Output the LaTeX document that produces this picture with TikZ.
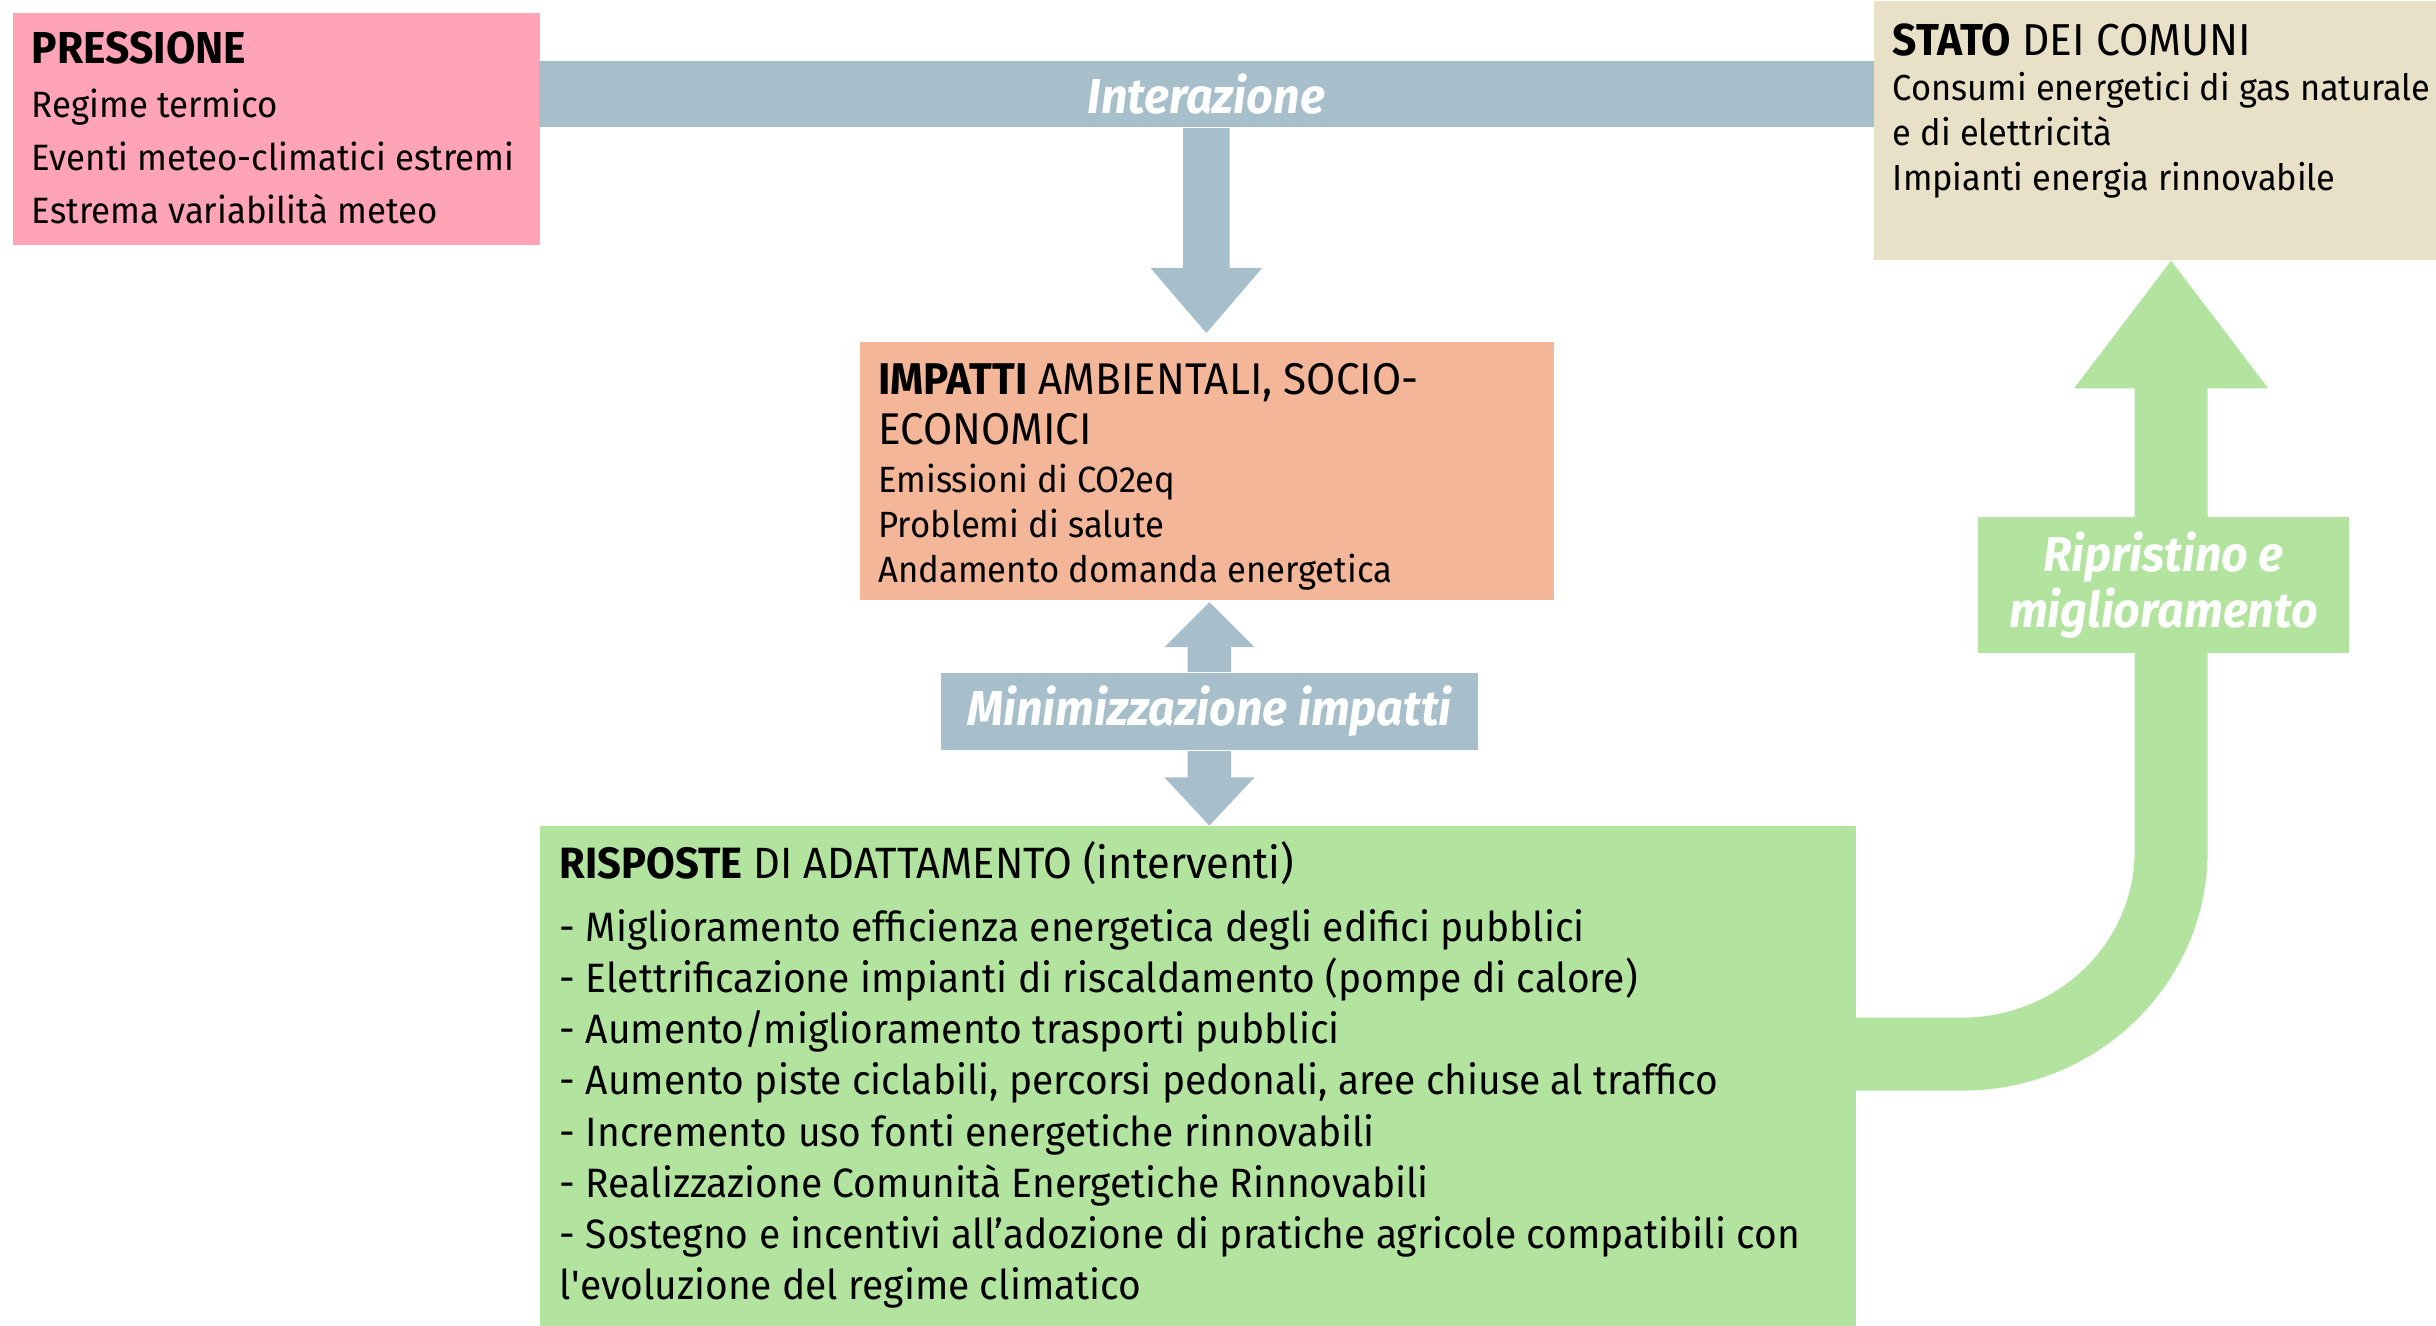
\documentclass[tikz,border=0pt]{standalone}
\usepackage{fontspec}
\setmainfont{Fira Sans}[FakeStretch=0.95]
\usepackage{xcolor}
\usepackage{tikz}

\definecolor{pressionecol}{HTML}{FFA3B7}
\definecolor{statocol}{HTML}{E8E1C8}
\definecolor{impatticol}{HTML}{F4B698}
\definecolor{rispostecol}{HTML}{B3E49F}
\definecolor{arrowgray}{HTML}{A7BFCB}

\newcommand\headfont[1]{\fontsize{#1}{16}\selectfont}

\begin{document}
\begin{tikzpicture}[x=0.5pt,y=-0.5pt,
  box/.style={rectangle, inner sep=0pt, anchor=north west},
  boxtext/.style={anchor=north west, align=left, inner sep=0pt},
  flowlabel/.style={text=white, inner sep=0pt,
    font=\bfseries\itshape\fontsize{15.8}{18}\selectfont}]
  \useasboundingbox (0,0) rectangle (1568,853.5);

  % boxes
  \node[box, fill=pressionecol, minimum width=169.5pt, minimum height=74.5pt] (pressione) at (8,8) {};
  \node[box, fill=statocol, minimum width=181pt, minimum height=83.5pt] (stato) at (1206,0) {};
  \node[box, fill=impatticol, minimum width=223.5pt, minimum height=83pt] (impatti) at (553,220) {};
  \node[box, fill=rispostecol, minimum width=423.5pt, minimum height=161.25pt] (risposte) at (347,531) {};

  % interazione
  \node[flowlabel, fill=arrowgray, minimum width=429.5pt, minimum height=21.5pt] (interazione) at (776.5,60.5) {Interazione};
  \fill[arrowgray] ([xshift=-7.5pt]interazione.south) -- ++(0,90) -- ++(-21,0) -- ++(36,42)
    -- ++(36,-42) -- ++(-21,0) -- ++(0,-90) -- cycle;

  % minimizzazione
  \node[flowlabel, fill=arrowgray, minimum width=173pt, minimum height=25pt] (minim) at (778.5,458) {Minimizzazione impatti};
  \fill[arrowgray] ([xshift=-7pt]minim.north) -- ++(0,-16) -- ++(-15,0) -- ++(29,-29)
    -- ++(29,29) -- ++(-15,0) -- ++(0,16) -- cycle;
  \fill[arrowgray] ([xshift=-7pt]minim.south) -- ++(0,17) -- ++(-15,0) -- ++(29,31)
    -- ++(29,-31) -- ++(-15,0) -- ++(0,-17) -- cycle;

  % ripristino
  \fill[rispostecol] (risposte.north east |- 0,655) -- (1263,655)
    arc[start angle=270, end angle=360, x radius=55.5pt, y radius=53.5pt]
    -- (1374,250) -- (1335,250) -- (stato.south -| 1397.5,0) -- (1460,250) -- (1421,250) -- (1421,548)
    arc[start angle=0, end angle=-90, x radius=79pt, y radius=77pt]
    -- (risposte.north east |- 0,702) -- cycle;
  \node[flowlabel, fill=rispostecol, minimum width=119.5pt, minimum height=43.5pt, align=center] (ripristino) at (1392.5,376.5) {Ripristino e\\miglioramento};

  % texts
  \node[boxtext, font=\fontsize{11.8}{17}\selectfont] (pressione-txt) at (20,20)
    {\headfont{14.4}\textbf{PRESSIONE}\\[0.5pt] Regime termico\\ Eventi meteo-climatici estremi\\ Estrema variabilità meteo};
  \node[boxtext, font=\fontsize{11.65}{14.5}\selectfont] (stato-txt) at (1218,15)
    {\headfont{14.4}\textbf{STATO} DEI COMUNI\\ Consumi energetici di gas naturale\\ e di elettricità\\ Impianti energia rinnovabile};
  \node[boxtext, font=\fontsize{11.75}{14.5}\selectfont] (impatti-txt) at (565,233.5)
    {\headfont{14.3}\textbf{IMPATTI} AMBIENTALI, SOCIO-\\[1.5pt] \headfont{14.3}ECONOMICI\\[1pt] Emissioni di CO2eq\\ Problemi di salute\\ Andamento domanda energetica};
  \node[boxtext, font=\fontsize{13.2}{16.5}\selectfont] (risposte-txt) at (360,541.5)
    {\headfont{14.1}\textbf{RISPOSTE} DI ADATTAMENTO (interventi)\\[3.5pt]
     - Miglioramento efficienza energetica degli edifici pubblici\\
     - Elettrificazione impianti di riscaldamento (pompe di calore)\\
     - Aumento/miglioramento trasporti pubblici\\
     - Aumento piste ciclabili, percorsi pedonali, aree chiuse al traffico\\
     - Incremento uso fonti energetiche rinnovabili\\
     - Realizzazione Comunità Energetiche Rinnovabili\\
     - Sostegno e incentivi all’adozione di pratiche agricole compatibili con\\
     l\textquotesingle evoluzione del regime climatico};
\end{tikzpicture}
\end{document}
